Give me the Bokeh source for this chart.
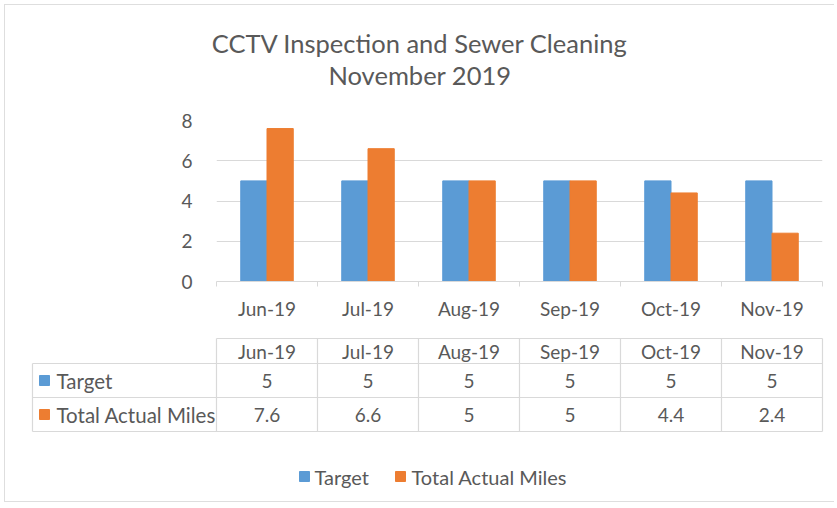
import numpy as np
from bokeh.plotting import figure
from bokeh.layouts import column
from bokeh.models import Range1d, FixedTicker, ColumnDataSource
from bokeh.transform import dodge
from bokeh.core.properties import value
from bokeh.embed import file_html
from bokeh.resources import INLINE

# ---- data ----
months = ["Jun-19", "Jul-19", "Aug-19", "Sep-19", "Oct-19", "Nov-19"]
target = [5, 5, 5, 5, 5, 5]
actual = [7.6, 6.6, 5, 5, 4.4, 2.4]
series_names = ["Target", "Total Actual Miles"]
title_lines = ["CCTV Inspection and Sewer Cleaning", "November 2019"]
y_ticks = [0, 2, 4, 6, 8]

# ---- style ----
BLUE = "#5B9BD5"
ORANGE = "#ED7D31"
TEXT = "#595959"
GRID = "#D9D9D9"
EDGE = "#DEDEDE"
FONT = "Lato"
X0 = 1              # reference x where the page content starts
X1 = 835            # reference x where the page content ends
W = X1 - X0
CAT_PX = 101.0      # pixel width of one category
FRAME_LEFT = 217.0  # reference x of the plot frame's left edge
FRAME_RIGHT = 823.0


def px(xref):
    """reference-pixel x -> category units (shared by chart and table)"""
    return (xref - FRAME_LEFT) / CAT_PX


def strip(fig):
    fig.axis.visible = False
    fig.grid.visible = False
    fig.outline_line_color = None


def clear(fig):
    fig.border_fill_color = None
    fig.background_fill_color = None


# ---- title ----
HT = 104
pt = figure(width=W, height=HT, x_range=Range1d(X0, X1), y_range=Range1d(HT, 0),
            output_backend="svg", toolbar_location=None, min_border=0,
            frame_align=False)
strip(pt)
clear(pt)
pt.text(x=[420.5, 420.5], y=[42, 74], text=title_lines, text_font=value(FONT),
        text_font_size="25.5px", text_color=TEXT, text_align="center",
        text_baseline="middle")

# ---- chart ----
n = len(months)
xc = list(np.arange(n) + 0.5)
src = ColumnDataSource(dict(x=xc, target=target, actual=actual))
HC = 225
p = figure(width=W, height=HC, x_range=Range1d(0, n), y_range=Range1d(0, 8),
           output_backend="svg", toolbar_location=None,
           min_border_left=int(FRAME_LEFT - X0),
           min_border_right=int(X1 - FRAME_RIGHT),
           min_border_top=16, min_border_bottom=48, frame_align=False)
clear(p)
p.vbar(x=dodge("x", -0.13, range=p.x_range), top="target", width=0.26,
       source=src, color=BLUE)
p.vbar(x=dodge("x", 0.13, range=p.x_range), top="actual", width=0.26,
       source=src, color=ORANGE)
p.outline_line_color = None
p.xgrid.visible = False
p.ygrid.grid_line_color = GRID
p.ygrid.ticker = FixedTicker(ticks=y_ticks)

p.xaxis.ticker = FixedTicker(ticks=xc, minor_ticks=list(range(n + 1)))
p.xaxis.major_label_overrides = {float(v): m for v, m in zip(xc, months)}
p.xaxis.axis_line_color = GRID
p.xaxis.major_tick_line_color = None
p.xaxis.major_tick_out = 0
p.xaxis.minor_tick_line_color = GRID
p.xaxis.minor_tick_out = 5
p.xaxis.minor_tick_in = 0
p.xaxis.major_label_standoff = 10

p.yaxis.ticker = FixedTicker(ticks=y_ticks)
p.yaxis.axis_line_color = None
p.yaxis.major_tick_line_color = None
p.yaxis.minor_tick_line_color = None
p.yaxis.major_tick_out = 0
p.yaxis.major_label_standoff = 24

for ax in (p.xaxis[0], p.yaxis[0]):
    ax.major_label_text_font = FONT
    ax.major_label_text_font_size = "19px"
    ax.major_label_text_color = TEXT

# ---- data table + legend ----
H2 = 173
pb = figure(width=W, height=H2, x_range=Range1d(px(X0), px(X1)),
            y_range=Range1d(H2, 0), output_backend="svg",
            toolbar_location=None, min_border=0, frame_align=False)
strip(pb)
clear(pb)

left = px(33)
row_top = [9, 34, 68, 102]  # header top, row1 top, row2 top, bottom
hx0 = [0, left, left, left]
hx1 = [n] * 4
pb.segment(x0=hx0, y0=row_top, x1=hx1, y1=row_top, line_color=GRID, line_width=1.2)
vx = [left] + list(range(n + 1))
vy0 = [row_top[1]] + [row_top[0]] * (n + 1)
vy1 = [row_top[3]] * (n + 2)
pb.segment(x0=vx, y0=vy0, x1=vx, y1=vy1, line_color=GRID, line_width=1.2)

yh = (row_top[0] + row_top[1]) / 2
y1 = (row_top[1] + row_top[2]) / 2
y2 = (row_top[2] + row_top[3]) / 2
tk = dict(text_font=value(FONT), text_color=TEXT, text_baseline="middle")
pb.text(x=xc, y=[yh] * n, text=months, text_align="center",
        text_font_size="19px", **tk)
pb.text(x=xc, y=[y1] * n, text=[str(v) for v in target], text_align="center",
        text_font_size="19px", **tk)
pb.text(x=xc, y=[y2] * n, text=[str(v) for v in actual], text_align="center",
        text_font_size="19px", **tk)

pb.scatter(x=[px(45), px(45)], y=[y1, y2], marker="square", size=10,
           color=[BLUE, ORANGE])
pb.text(x=[px(57), px(57)], y=[y1, y2], text=series_names, text_align="left",
        text_font_size="20.5px", **tk)

# legend
yl = 147
pb.scatter(x=[px(305), px(401)], y=[yl, yl], marker="square", size=10,
           color=[BLUE, ORANGE])
pb.text(x=[px(315), px(412)], y=[yl, yl], text=series_names, text_align="left",
        text_font_size="20px", **tk)

# faint chart-area border (left, top, bottom) drawn as layered inset shadows
layout = column(pt, p, pb, spacing=0, styles={
    "background-color": "white",
    "box-shadow": ("inset 4px 4px 0 0 #ffffff, inset 5px 5px 0 0 " + EDGE +
                   ", inset 0 -1px 0 0 " + EDGE),
})
open("out.html", "w").write(file_html(layout, INLINE))
